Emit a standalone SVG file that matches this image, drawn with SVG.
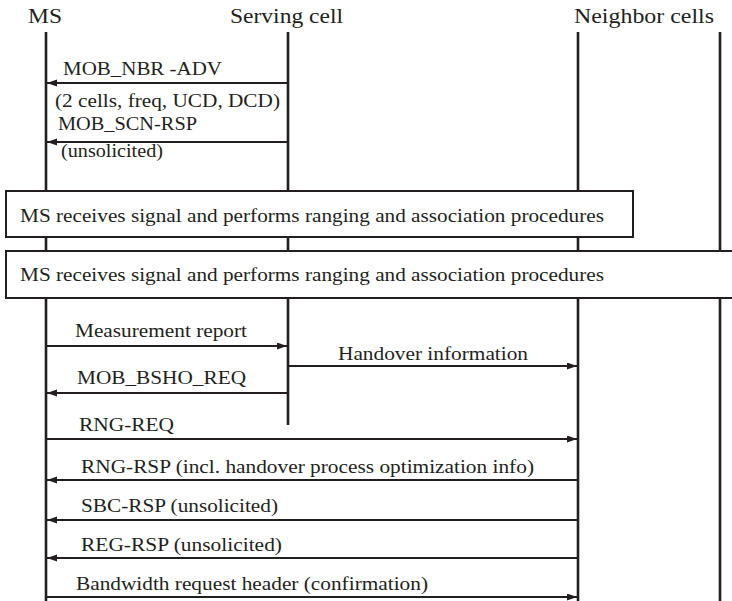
<svg xmlns="http://www.w3.org/2000/svg" width="732" height="601" viewBox="0 0 732 601">
<style>
  text { font-family: "Liberation Serif", "Times New Roman", serif; fill: #231f20; }
  .hdr { font-size: 20px; }
  .msg { font-size: 18px; }
  .life { stroke: #231f20; stroke-width: 2.6; fill: none; }
  .box { fill: #ffffff; stroke: #231f20; stroke-width: 2; }
  .arr { stroke: #231f20; stroke-width: 1.8; fill: none; marker-end: url(#ah); }
</style>
<defs>
  <marker id="ah" markerUnits="userSpaceOnUse" markerWidth="11" markerHeight="8" refX="10" refY="3.5" orient="auto">
    <path d="M0,0 L10,3.5 L0,7 z" fill="#231f20"/>
  </marker>
</defs>
<rect width="732" height="601" fill="#ffffff"/>

<g id="ms">
  <text class="hdr" x="28" y="23" textLength="34" lengthAdjust="spacingAndGlyphs">MS</text>
  <line class="life" x1="46" y1="32" x2="46" y2="601"/>
</g>
<g id="serving-cell">
  <text class="hdr" x="230" y="23" textLength="113" lengthAdjust="spacingAndGlyphs">Serving cell</text>
  <line class="life" x1="288" y1="32" x2="288" y2="425"/>
</g>
<g id="neighbor-cells">
  <text class="hdr" x="574" y="23" textLength="140" lengthAdjust="spacingAndGlyphs">Neighbor cells</text>
  <line class="life" x1="578" y1="32" x2="578" y2="601"/>
  <line class="life" x1="720" y1="32" x2="720" y2="601"/>
</g>

<g id="box1">
  <rect class="box" x="6" y="191" width="627" height="46"/>
  <text class="msg" x="20" y="222" textLength="584" lengthAdjust="spacingAndGlyphs">MS receives signal and performs ranging and association procedures</text>
</g>
<g id="box2">
  <rect class="box" x="6" y="251" width="740" height="47"/>
  <text class="msg" x="20" y="281" textLength="584" lengthAdjust="spacingAndGlyphs">MS receives signal and performs ranging and association procedures</text>
</g>

<g id="connectors">
  <line class="arr" x1="288" y1="83" x2="47" y2="83"/>
  <line class="arr" x1="288" y1="142" x2="47" y2="142"/>
  <line class="arr" x1="46" y1="346" x2="287" y2="346"/>
  <line class="arr" x1="288" y1="366" x2="577" y2="366"/>
  <line class="arr" x1="288" y1="393" x2="47" y2="393"/>
  <line class="arr" x1="46" y1="439" x2="577" y2="439"/>
  <line class="arr" x1="578" y1="480" x2="47" y2="480"/>
  <line class="arr" x1="578" y1="520" x2="47" y2="520"/>
  <line class="arr" x1="578" y1="558" x2="47" y2="558"/>
  <line class="arr" x1="46" y1="597" x2="577" y2="597"/>
</g>

<g id="labels">
  <text class="msg" x="63" y="75" textLength="159" lengthAdjust="spacingAndGlyphs">MOB_NBR -ADV</text>
  <text class="msg" x="55" y="107" textLength="225" lengthAdjust="spacingAndGlyphs">(2 cells, freq, UCD, DCD)</text>
  <text class="msg" x="58" y="130" textLength="139" lengthAdjust="spacingAndGlyphs">MOB_SCN-RSP</text>
  <text class="msg" x="61" y="157" textLength="102" lengthAdjust="spacingAndGlyphs">(unsolicited)</text>
  <text class="msg" x="75" y="337" textLength="172" lengthAdjust="spacingAndGlyphs">Measurement report</text>
  <text class="msg" x="338" y="360" textLength="190" lengthAdjust="spacingAndGlyphs">Handover information</text>
  <text class="msg" x="77" y="384" textLength="169" lengthAdjust="spacingAndGlyphs">MOB_BSHO_REQ</text>
  <text class="msg" x="79" y="431" textLength="95" lengthAdjust="spacingAndGlyphs">RNG-REQ</text>
  <text class="msg" x="81" y="473" textLength="453" lengthAdjust="spacingAndGlyphs">RNG-RSP (incl. handover process optimization info)</text>
  <text class="msg" x="81" y="512" textLength="197" lengthAdjust="spacingAndGlyphs">SBC-RSP (unsolicited)</text>
  <text class="msg" x="81" y="551" textLength="201" lengthAdjust="spacingAndGlyphs">REG-RSP (unsolicited)</text>
  <text class="msg" x="76" y="590" textLength="352" lengthAdjust="spacingAndGlyphs">Bandwidth request header (confirmation)</text>
</g>
</svg>
